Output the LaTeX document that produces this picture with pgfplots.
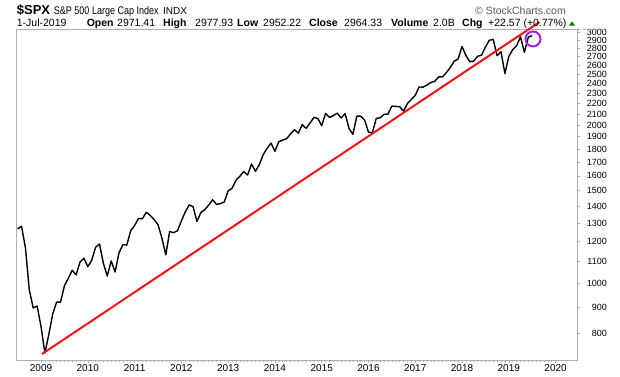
\documentclass[border=0pt]{standalone}
\usepackage{fontspec}
\setmainfont{Liberation Sans}
\usepackage{graphicx}
\usepackage{pgfplots}
\pgfplotsset{compat=1.18}
\usepackage{pgfplotstable}
\definecolor{spxred}{RGB}{240,20,20}
\definecolor{circ}{RGB}{160,32,240}
\definecolor{axgray}{RGB}{175,175,175}
\definecolor{chggreen}{RGB}{0,128,0}
\definecolor{scgray}{RGB}{90,90,90}

\pgfplotstableread{
t v
2008.500 1267.38
2008.583 1282.83
2008.667 1166.36
2008.750 968.75
2008.833 896.24
2008.917 903.25
2009.000 825.88
2009.083 735.09
2009.167 797.87
2009.250 872.81
2009.333 919.14
2009.417 919.32
2009.500 987.48
2009.583 1020.62
2009.667 1057.08
2009.750 1036.19
2009.833 1095.63
2009.917 1115.10
2010.000 1073.87
2010.083 1104.49
2010.167 1169.43
2010.250 1186.69
2010.333 1089.41
2010.417 1030.71
2010.500 1101.60
2010.583 1049.33
2010.667 1141.20
2010.750 1183.26
2010.833 1180.55
2010.917 1257.64
2011.000 1286.12
2011.083 1327.22
2011.167 1325.83
2011.250 1363.61
2011.333 1345.20
2011.417 1320.64
2011.500 1292.28
2011.583 1218.89
2011.667 1131.42
2011.750 1253.30
2011.833 1246.96
2011.917 1257.60
2012.000 1312.41
2012.083 1365.68
2012.167 1408.47
2012.250 1397.91
2012.333 1310.33
2012.417 1362.16
2012.500 1379.32
2012.583 1406.58
2012.667 1440.67
2012.750 1412.16
2012.833 1416.18
2012.917 1426.19
2013.000 1498.11
2013.083 1514.68
2013.167 1569.19
2013.250 1597.57
2013.333 1630.74
2013.417 1606.28
2013.500 1685.73
2013.583 1632.97
2013.667 1681.55
2013.750 1756.54
2013.833 1805.81
2013.917 1848.36
2014.000 1782.59
2014.083 1859.45
2014.167 1872.34
2014.250 1883.95
2014.333 1923.57
2014.417 1960.23
2014.500 1930.67
2014.583 2003.37
2014.667 1972.29
2014.750 2018.05
2014.833 2067.56
2014.917 2058.90
2015.000 1994.99
2015.083 2104.50
2015.167 2067.89
2015.250 2085.51
2015.333 2107.39
2015.417 2063.11
2015.500 2103.84
2015.583 1972.18
2015.667 1920.03
2015.750 2079.36
2015.833 2080.41
2015.917 2043.94
2016.000 1940.24
2016.083 1932.23
2016.167 2059.74
2016.250 2065.30
2016.333 2096.95
2016.417 2098.86
2016.500 2173.60
2016.583 2170.95
2016.667 2168.27
2016.750 2126.15
2016.833 2198.81
2016.917 2238.83
2017.000 2278.87
2017.083 2363.64
2017.167 2362.72
2017.250 2384.20
2017.333 2411.80
2017.417 2423.41
2017.500 2470.30
2017.583 2471.65
2017.667 2519.36
2017.750 2575.26
2017.833 2647.58
2017.917 2673.61
2018.000 2823.81
2018.083 2713.83
2018.167 2640.87
2018.250 2648.05
2018.333 2705.27
2018.417 2718.37
2018.500 2816.29
2018.583 2901.52
2018.667 2913.98
2018.750 2711.74
2018.833 2760.17
2018.917 2506.85
2019.000 2704.10
2019.083 2784.49
2019.167 2834.40
2019.250 2945.83
2019.333 2752.06
2019.417 2941.76
2019.500 2964.33
}\spx

\begin{document}
\begin{tikzpicture}[x=1pt,y=1pt]
\useasboundingbox (0,0) rectangle (620,376);
\begin{axis}[
  at={(16.7pt,16pt)}, anchor=south west,
  width=560.3pt, height=330.5pt, scale only axis,
  xmin=2008.48, xmax=2020.458,
  ymode=log, ymin=713, ymax=3043,
  clip=false,
  axis line style={draw=axgray, line width=0.8pt},
  xtick={2009,2010,2011,2012,2013,2014,2015,2016,2017,2018,2019,2020},
  xticklabels={2009,2010,2011,2012,2013,2014,2015,2016,2017,2018,2019,2020},
  minor x tick num=11,
  ytick={800,900,1000,1100,1200,1300,1400,1500,1600,1700,1800,1900,2000,2100,2200,2300,2400,2500,2600,2700,2800,2900,3000},
  yticklabels={800,900,1000,1100,1200,1300,1400,1500,1600,1700,1800,1900,2000,2100,2200,2300,2400,2500,2600,2700,2800,2900,3000},
  log basis y=10,
  xtick pos=bottom, ytick pos=right, yticklabel pos=right,
  tick align=outside,
  major tick length=3pt, minor tick length=2pt,
  every tick/.style={draw=axgray, line width=0.6pt},
  every minor tick/.style={draw=axgray, line width=0.5pt},
  x tick label style={font=\fontsize{10}{10}\selectfont, anchor=north, inner sep=0pt, yshift=-1pt},
  y tick label style={font=\fontsize{9}{9}\selectfont, anchor=east, inner sep=0pt, xshift=27pt},
]
\addplot[black, line width=1.4pt, line join=round, mark=none] table[x=t,y=v]{\spx};
\addplot[spxred, line width=2pt, mark=none] coordinates {(2009.02,732) (2019.656,3144)};
\draw[circ, line width=2pt] (axis cs:2019.517,2919) circle[radius=7.5pt];
\end{axis}
% dashed extension of top border over the label column
\draw[axgray, line width=0.8pt, dash pattern=on 3pt off 3pt] (577,346.5) -- (604,346.5);
% header line 1
\node[anchor=base west, inner sep=0pt] at (16.7,362) {\fontsize{13}{13}\selectfont\bfseries \$SPX};
\node[anchor=base west, inner sep=0pt] at (53.7,362) {\scalebox{0.82}[1]{\fontsize{11}{11}\selectfont S\&P 500 Large Cap Index}};
\node[anchor=base west, inner sep=0pt] at (163,362) {\fontsize{10}{10}\selectfont INDX};
\node[anchor=base west, inner sep=0pt, text=scgray] at (475,362) {\fontsize{10.5}{10.5}\selectfont © StockCharts.com};
% header line 2
\node[anchor=base west, inner sep=0pt] at (16.7,350) {\fontsize{10.5}{10.5}\selectfont 1-Jul-2019};
\node[anchor=base west, inner sep=0pt] at (86.6,350) {\fontsize{10.5}{10.5}\selectfont\bfseries Open};
\node[anchor=base west, inner sep=0pt] at (117,350) {\fontsize{10.5}{10.5}\selectfont 2971.41};
\node[anchor=base west, inner sep=0pt] at (163,350) {\fontsize{10.5}{10.5}\selectfont\bfseries High};
\node[anchor=base west, inner sep=0pt] at (195,350) {\fontsize{10.5}{10.5}\selectfont 2977.93};
\node[anchor=base west, inner sep=0pt] at (237,350) {\fontsize{10.5}{10.5}\selectfont\bfseries Low};
\node[anchor=base west, inner sep=0pt] at (263,350) {\fontsize{10.5}{10.5}\selectfont 2952.22};
\node[anchor=base west, inner sep=0pt] at (309,350) {\fontsize{10.5}{10.5}\selectfont\bfseries Close};
\node[anchor=base west, inner sep=0pt] at (344,350) {\fontsize{10.5}{10.5}\selectfont 2964.33};
\node[anchor=base west, inner sep=0pt] at (391,350) {\fontsize{10.5}{10.5}\selectfont\bfseries Volume};
\node[anchor=base west, inner sep=0pt] at (433,350) {\fontsize{10.5}{10.5}\selectfont 2.0B};
\node[anchor=base west, inner sep=0pt] at (462,350) {\fontsize{10.5}{10.5}\selectfont\bfseries Chg};
\node[anchor=base west, inner sep=0pt] at (488,350) {\fontsize{10.5}{10.5}\selectfont +22.57 (+0.77\%)};
\fill[chggreen] (569,350.5) -- (575,350.5) -- (572,354.5) -- cycle;
\end{tikzpicture}
\end{document}
